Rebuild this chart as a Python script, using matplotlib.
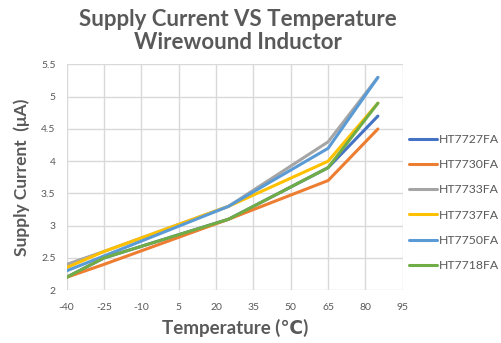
import matplotlib.pyplot as plt

temps = [-40, -25, 25, 65, 85]
names = ['HT7727FA', 'HT7730FA', 'HT7733FA', 'HT7737FA', 'HT7750FA', 'HT7718FA']
ht7727 = [2.2, 2.5, 3.1, 3.9, 4.7]
ht7730 = [2.2, 2.4, 3.1, 3.7, 4.5]
ht7733 = [2.4, 2.6, 3.3, 4.3, 5.3]
ht7737 = [2.35, 2.6, 3.3, 4.0, 4.9]
ht7750 = [2.3, 2.53, 3.3, 4.2, 5.3]
ht7718 = [2.2, 2.5, 3.1, 3.9, 4.9]
xticks = [-40, -25, -10, 5, 20, 35, 50, 65, 80, 95]

colors = ['#4472C4', '#ED7D31', '#A5A5A5', '#FFC000', '#5B9BD5', '#70AD47']
txt = '#595959'
plt.rcParams['font.family'] = ['Lato', 'DejaVu Sans']
plt.rcParams['axes.unicode_minus'] = False

fig = plt.figure(figsize=(5.01, 3.43), dpi=100)
ax = fig.add_axes([0.133, 0.154, 0.671, 0.658])

for vals, name, c in zip([ht7727, ht7730, ht7733, ht7737, ht7750, ht7718], names, colors):
    ax.plot(temps, vals, color=c, lw=2.2, label=name, solid_capstyle='round')

ax.set_xlim(-40, 95)
ax.set_ylim(2, 5.5)
ax.set_xticks(xticks)
ax.set_yticks([2, 2.5, 3, 3.5, 4, 4.5, 5, 5.5])
ax.set_yticklabels(['2', '2.5', '3', '3.5', '4', '4.5', '5', '5.5'])
ax.grid(True, color='#d9d9d9', lw=1)
ax.set_axisbelow(True)
for s in ax.spines.values():
    s.set_visible(False)
ax.tick_params(length=0, labelsize=7.5, colors=txt)
ax.tick_params(axis='x', pad=9)
ax.tick_params(axis='y', pad=8)

ax.set_xlabel('Temperature (℃)', fontsize=13.5, fontweight='bold', color=txt, labelpad=5)
ax.set_ylabel('Supply Current  (μA)', fontsize=12.5, fontweight='bold', color=txt, labelpad=8)
fig.text(0.475, 0.975, 'Supply Current VS Temperature\nWirewound Inductor', ha='center', va='top',
         fontsize=16, fontweight='bold', color=txt, linespacing=1.15)

leg = ax.legend(loc='center left', bbox_to_anchor=(1.01, 0.388), frameon=False, fontsize=8.8,
                handlelength=2.3, handletextpad=0.2, labelspacing=1.17, borderaxespad=0.0,
                borderpad=0.2)
for t in leg.get_texts():
    t.set_color(txt)

fig.savefig('out.png', dpi=100)
